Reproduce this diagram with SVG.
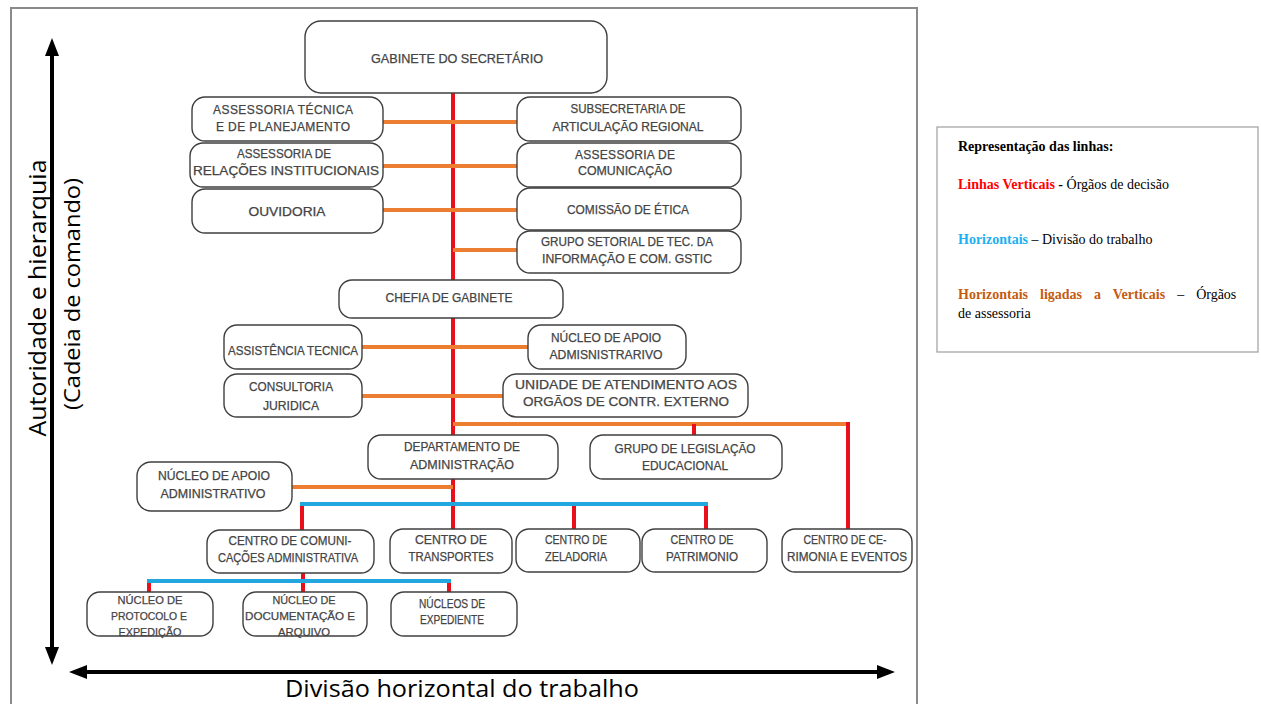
<svg xmlns="http://www.w3.org/2000/svg" width="1261" height="704" viewBox="0 0 1261 704">
  <style>
    .box { fill: #ffffff; stroke: #3f3f3f; stroke-width: 1.4; }
    .lbl { font-family: "Liberation Sans", Arial, sans-serif; font-size: 12px; fill: #444444; stroke: #444444; stroke-width: 0.25; text-anchor: middle; }
    .sm { font-size: 11px; }
    .red { stroke: #e8101a; stroke-width: 4; fill: none; }
    .org { stroke: #ed7d31; stroke-width: 4; fill: none; }
    .blu { stroke: #22a6e0; stroke-width: 4; fill: none; }
    .axis { stroke: #000000; stroke-width: 4; fill: none; }
    .axt { font-family: "Open Sans", "Liberation Sans", sans-serif; fill: #000000; text-anchor: middle; }
    .lg { font-family: "Liberation Serif", "Times New Roman", serif; font-size: 14px; fill: #000000; }
    .b { font-weight: bold; }
  </style>
  <defs>
    <marker id="head" viewBox="0 0 18 14" markerWidth="18" markerHeight="14" refX="8" refY="7" orient="auto-start-reverse" markerUnits="userSpaceOnUse">
      <path d="M0,0 L18,7 L0,14 z" fill="#000000"/>
    </marker>
  </defs>

  <rect width="1261" height="704" fill="#ffffff"/>

  <!-- outer frame of the chart -->
  <path d="M11,710 V8 H917 V710" fill="none" stroke="#8a8a8a" stroke-width="2"/>

  <!-- axes -->
  <g id="axes">
    <line class="axis" x1="52" y1="48" x2="52" y2="655" marker-start="url(#head)" marker-end="url(#head)"/>
    <line class="axis" x1="79" y1="672" x2="885" y2="672" marker-start="url(#head)" marker-end="url(#head)"/>
    <text class="axt" font-size="24" transform="translate(46,298) rotate(-90)" textLength="277" lengthAdjust="spacingAndGlyphs">Autoridade e hierarquia</text>
    <text class="axt" font-size="21" transform="translate(80,294) rotate(-90)" textLength="232" lengthAdjust="spacingAndGlyphs">(Cadeia de comando)</text>
    <text class="axt" font-size="24" x="462" y="697" textLength="354" lengthAdjust="spacingAndGlyphs">Divisão horizontal do trabalho</text>
  </g>

  <!-- connectors -->
  <g id="connectors">
    <line class="red" x1="453" y1="93" x2="453" y2="529"/>
    <line class="org" x1="383" y1="122" x2="517" y2="122"/>
    <line class="org" x1="383" y1="166" x2="517" y2="166"/>
    <line class="org" x1="383" y1="210" x2="517" y2="210"/>
    <line class="org" x1="453" y1="250" x2="517" y2="250"/>
    <line class="org" x1="362" y1="347" x2="528" y2="347"/>
    <line class="org" x1="362" y1="396" x2="503" y2="396"/>
    <line class="org" x1="453" y1="424" x2="848" y2="424"/>
    <line class="red" x1="694" y1="424" x2="694" y2="435"/>
    <line class="red" x1="848" y1="422" x2="848" y2="529"/>
    <line class="org" x1="292" y1="487" x2="453" y2="487"/>
    <line class="red" x1="302" y1="504" x2="302" y2="530"/>
    <line class="red" x1="574" y1="504" x2="574" y2="529"/>
    <line class="red" x1="706" y1="504" x2="706" y2="529"/>
    <line class="blu" x1="300" y1="504" x2="708" y2="504"/>
    <line class="red" x1="149" y1="581" x2="149" y2="592"/>
    <line class="red" x1="303" y1="573" x2="303" y2="595"/>
    <line class="red" x1="449" y1="581" x2="449" y2="593"/>
    <line class="blu" x1="147" y1="581" x2="451" y2="581"/>
  </g>

  <g id="gabinete-secretario">
    <rect class="box" x="305" y="21" width="302" height="72" rx="16"/>
    <text class="lbl" x="457" y="63" textLength="172" lengthAdjust="spacingAndGlyphs">GABINETE DO SECRETÁRIO</text>
  </g>
  <g id="assessoria-tecnica-planejamento">
    <rect class="box" x="192" y="97" width="191" height="44" rx="13"/>
    <text class="lbl" x="283" y="114" textLength="140" lengthAdjust="spacing">ASSESSORIA TÉCNICA</text>
    <text class="lbl" x="283" y="131" textLength="134" lengthAdjust="spacing">E DE PLANEJAMENTO</text>
  </g>
  <g id="subsecretaria-articulacao">
    <rect class="box" x="517" y="97" width="224" height="44" rx="13"/>
    <text class="lbl" x="628" y="113" textLength="115" lengthAdjust="spacingAndGlyphs">SUBSECRETARIA DE</text>
    <text class="lbl" x="628" y="131" textLength="151" lengthAdjust="spacingAndGlyphs">ARTICULAÇÃO REGIONAL</text>
  </g>
  <g id="assessoria-relacoes">
    <rect class="box" x="190" y="143" width="193" height="44" rx="13"/>
    <text class="lbl" x="284" y="158" textLength="94" lengthAdjust="spacingAndGlyphs">ASSESSORIA DE</text>
    <text class="lbl" x="286" y="175" textLength="186" lengthAdjust="spacingAndGlyphs">RELAÇÕES INSTITUCIONAIS</text>
  </g>
  <g id="assessoria-comunicacao">
    <rect class="box" x="517" y="143" width="224" height="44" rx="13"/>
    <text class="lbl" x="625" y="159" textLength="100" lengthAdjust="spacing">ASSESSORIA DE</text>
    <text class="lbl" x="625" y="175" textLength="94" lengthAdjust="spacingAndGlyphs">COMUNICAÇÃO</text>
  </g>
  <g id="ouvidoria">
    <rect class="box" x="192" y="189" width="191" height="44" rx="13"/>
    <text class="lbl" x="287" y="216" textLength="77" lengthAdjust="spacingAndGlyphs">OUVIDORIA</text>
  </g>
  <g id="comissao-etica">
    <rect class="box" x="517" y="188" width="224" height="42" rx="13"/>
    <text class="lbl" x="628" y="214" textLength="122" lengthAdjust="spacingAndGlyphs">COMISSÃO DE ÉTICA</text>
  </g>
  <g id="grupo-setorial-gstic">
    <rect class="box" x="517" y="231" width="224" height="42" rx="13"/>
    <text class="lbl" x="627" y="246" textLength="172" lengthAdjust="spacingAndGlyphs">GRUPO SETORIAL DE TEC. DA</text>
    <text class="lbl" x="627" y="263" textLength="170" lengthAdjust="spacingAndGlyphs">INFORMAÇÃO E COM. GSTIC</text>
  </g>
  <g id="chefia-gabinete">
    <rect class="box" x="339" y="280" width="224" height="38" rx="13"/>
    <text class="lbl" x="449" y="302" textLength="127" lengthAdjust="spacingAndGlyphs">CHEFIA DE GABINETE</text>
  </g>
  <g id="assistencia-tecnica">
    <rect class="box" x="224" y="325" width="138" height="44" rx="13"/>
    <text class="lbl" x="293" y="355" textLength="130" lengthAdjust="spacingAndGlyphs">ASSISTÊNCIA TECNICA</text>
  </g>
  <g id="nucleo-apoio-admisnistrarivo">
    <rect class="box" x="528" y="325" width="158" height="44" rx="13"/>
    <text class="lbl" x="606" y="342" textLength="110" lengthAdjust="spacingAndGlyphs">NÚCLEO DE APOIO</text>
    <text class="lbl" x="606" y="359" textLength="113" lengthAdjust="spacingAndGlyphs">ADMISNISTRARIVO</text>
  </g>
  <g id="consultoria-juridica">
    <rect class="box" x="224" y="374" width="138" height="43" rx="13"/>
    <text class="lbl" x="291" y="391" textLength="84" lengthAdjust="spacingAndGlyphs">CONSULTORIA</text>
    <text class="lbl" x="291" y="410" textLength="56" lengthAdjust="spacingAndGlyphs">JURIDICA</text>
  </g>
  <g id="unidade-atendimento">
    <rect class="box" x="503" y="374" width="245" height="43" rx="13"/>
    <text class="lbl" x="626" y="389" textLength="222" lengthAdjust="spacingAndGlyphs">UNIDADE DE ATENDIMENTO AOS</text>
    <text class="lbl" x="626" y="406" textLength="206" lengthAdjust="spacingAndGlyphs">ORGÃOS DE CONTR. EXTERNO</text>
  </g>
  <g id="departamento-administracao">
    <rect class="box" x="368" y="435" width="190" height="44" rx="13"/>
    <text class="lbl" x="462" y="451" textLength="116" lengthAdjust="spacingAndGlyphs">DEPARTAMENTO DE</text>
    <text class="lbl" x="462" y="469" textLength="104" lengthAdjust="spacingAndGlyphs">ADMINISTRAÇÃO</text>
  </g>
  <g id="grupo-legislacao">
    <rect class="box" x="590" y="435" width="192" height="44" rx="13"/>
    <text class="lbl" x="685" y="453" textLength="141" lengthAdjust="spacingAndGlyphs">GRUPO DE LEGISLAÇÃO</text>
    <text class="lbl" x="685" y="470" textLength="86" lengthAdjust="spacingAndGlyphs">EDUCACIONAL</text>
  </g>
  <g id="nucleo-apoio-administrativo">
    <rect class="box" x="137" y="462" width="155" height="49" rx="14"/>
    <text class="lbl" x="214" y="480" textLength="112" lengthAdjust="spacingAndGlyphs">NÚCLEO DE APOIO</text>
    <text class="lbl" x="213" y="498" textLength="105" lengthAdjust="spacingAndGlyphs">ADMINISTRATIVO</text>
  </g>
  <g id="centro-comunicacoes">
    <rect class="box" x="207" y="530" width="167" height="43" rx="13"/>
    <text class="lbl" x="290" y="545" textLength="123" lengthAdjust="spacingAndGlyphs">CENTRO DE COMUNI-</text>
    <text class="lbl" x="288" y="562" textLength="140" lengthAdjust="spacingAndGlyphs">CAÇÕES ADMINISTRATIVA</text>
  </g>
  <g id="centro-transportes">
    <rect class="box" x="390" y="529" width="122" height="44" rx="13"/>
    <text class="lbl" x="451" y="544" textLength="72" lengthAdjust="spacingAndGlyphs">CENTRO DE</text>
    <text class="lbl" x="451" y="561" textLength="85" lengthAdjust="spacingAndGlyphs">TRANSPORTES</text>
  </g>
  <g id="centro-zeladoria">
    <rect class="box" x="516" y="529" width="124" height="43" rx="13"/>
    <text class="lbl" x="576" y="544" textLength="62" lengthAdjust="spacingAndGlyphs">CENTRO DE</text>
    <text class="lbl" x="576" y="561" textLength="62" lengthAdjust="spacingAndGlyphs">ZELADORIA</text>
  </g>
  <g id="centro-patrimonio">
    <rect class="box" x="642" y="529" width="125" height="43" rx="13"/>
    <text class="lbl" x="702" y="544" textLength="63" lengthAdjust="spacingAndGlyphs">CENTRO DE</text>
    <text class="lbl" x="702" y="561" textLength="72" lengthAdjust="spacingAndGlyphs">PATRIMONIO</text>
  </g>
  <g id="centro-cerimonia">
    <rect class="box" x="782" y="529" width="130" height="43" rx="13"/>
    <text class="lbl" x="845" y="544" textLength="83" lengthAdjust="spacingAndGlyphs">CENTRO DE CE-</text>
    <text class="lbl" x="847" y="561" textLength="120" lengthAdjust="spacingAndGlyphs">RIMONIA E EVENTOS</text>
  </g>
  <g id="nucleo-protocolo">
    <rect class="box" x="87" y="592" width="126" height="44" rx="13"/>
    <text class="lbl sm" x="150" y="604" textLength="65" lengthAdjust="spacingAndGlyphs">NÚCLEO DE</text>
    <text class="lbl sm" x="149" y="620" textLength="76" lengthAdjust="spacingAndGlyphs">PROTOCOLO E</text>
    <text class="lbl sm" x="150" y="636" textLength="63" lengthAdjust="spacingAndGlyphs">EXPEDIÇÃO</text>
  </g>
  <g id="nucleo-documentacao">
    <rect class="box" x="243" y="592" width="124" height="44" rx="13"/>
    <text class="lbl sm" x="304" y="604" textLength="63" lengthAdjust="spacingAndGlyphs">NÚCLEO DE</text>
    <text class="lbl sm" x="300" y="620" textLength="110" lengthAdjust="spacingAndGlyphs">DOCUMENTAÇÃO E</text>
    <text class="lbl sm" x="304" y="636" textLength="52" lengthAdjust="spacingAndGlyphs">ARQUIVO</text>
  </g>
  <g id="nucleos-expediente">
    <rect class="box" x="391" y="592" width="126" height="44" rx="13"/>
    <text class="lbl" x="452" y="608" textLength="66" lengthAdjust="spacingAndGlyphs">NÚCLEOS DE</text>
    <text class="lbl" x="452" y="624" textLength="64" lengthAdjust="spacingAndGlyphs">EXPEDIENTE</text>
  </g>

  <!-- legend of line colours -->
  <g id="legend">
    <rect x="937" y="127" width="321" height="225" fill="#ffffff" stroke="#a6a6a6" stroke-width="1.3"/>
    <text class="lg b" x="958" y="151">Representação das linhas:</text>
    <text class="lg" x="958" y="189"><tspan class="b" fill="#ff0000">Linhas Verticais</tspan><tspan class="b"> - </tspan>Órgãos de decisão</text>
    <text class="lg" x="958" y="244"><tspan class="b" fill="#1cb0f0">Horizontais</tspan> – Divisão do trabalho</text>
    <text class="lg" x="958" y="299" word-spacing="8.5"><tspan class="b" fill="#c55a11">Horizontais ligadas a Verticais</tspan> – Órgãos</text>
    <text class="lg" x="958" y="318">de assessoria</text>
  </g>
</svg>
